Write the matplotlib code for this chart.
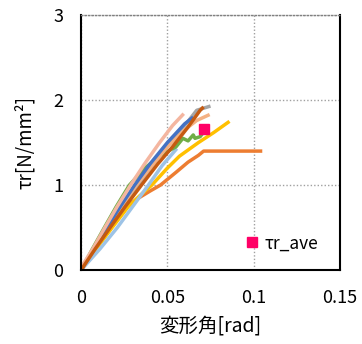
import matplotlib
matplotlib.use("Agg")
import matplotlib.pyplot as plt

plt.rcParams['font.family'] = ['Noto Sans CJK JP', 'DejaVu Sans']

# series data (deformation angle [rad], tau_r [N/mm2])
green_x = [0.0, 0.0066, 0.0135, 0.0205, 0.028, 0.037, 0.046, 0.055, 0.059, 0.062, 0.065, 0.066, 0.069, 0.0705]
green_y = [0.0, 0.25, 0.50, 0.75, 1.00, 1.20, 1.35, 1.45, 1.55, 1.52, 1.59, 1.55, 1.57, 1.61]

lblue_x = [0.0, 0.011, 0.021, 0.030, 0.039, 0.047, 0.0555]
lblue_y = [0.0, 0.25, 0.50, 0.75, 1.00, 1.23, 1.43]

orange_x = [0.0, 0.0085, 0.0175, 0.0268, 0.0335, 0.040, 0.046, 0.055, 0.062, 0.068, 0.071, 0.105]
orange_y = [0.0, 0.25, 0.50, 0.75, 0.85, 0.93, 1.00, 1.15, 1.27, 1.35, 1.40, 1.40]

yellow_x = [0.0, 0.0088, 0.018, 0.0275, 0.034, 0.041, 0.050, 0.057, 0.068, 0.077, 0.086]
yellow_y = [0.0, 0.25, 0.50, 0.75, 0.875, 1.00, 1.20, 1.34, 1.50, 1.62, 1.75]

gray_x = [0.0, 0.0078, 0.016, 0.0243, 0.033, 0.051, 0.062, 0.067, 0.075]
gray_y = [0.0, 0.25, 0.50, 0.75, 1.00, 1.50, 1.75, 1.88, 1.93]

salmon2_x = [0.0, 0.0076, 0.0155, 0.0236, 0.032, 0.050, 0.060, 0.067, 0.0745]
salmon2_y = [0.0, 0.25, 0.50, 0.75, 1.00, 1.45, 1.65, 1.76, 1.83]

blue_x = [0.0, 0.0073, 0.015, 0.0228, 0.031, 0.040, 0.050, 0.055, 0.060, 0.065]
blue_y = [0.0, 0.25, 0.50, 0.75, 1.00, 1.25, 1.50, 1.61, 1.72, 1.80]

salmon_x = [0.0, 0.0068, 0.0138, 0.021, 0.0287, 0.0368, 0.0455, 0.053, 0.0595]
salmon_y = [0.03, 0.25, 0.50, 0.75, 1.00, 1.25, 1.50, 1.70, 1.84]

brown_x = [0.0, 0.0082, 0.0168, 0.0257, 0.035, 0.0445, 0.053, 0.0615, 0.069, 0.071]
brown_y = [0.0, 0.25, 0.50, 0.75, 1.00, 1.25, 1.45, 1.67, 1.88, 1.92]

ave_x = [0.071]
ave_y = [1.66]

series = [
    (orange_x, orange_y, '#ED7D31'),
    (yellow_x, yellow_y, '#FFC000'),
    (lblue_x, lblue_y, '#9DC3E6'),
    (green_x, green_y, '#70AD47'),
    (gray_x, gray_y, '#A5A5A5'),
    (salmon2_x, salmon2_y, '#F4B183'),
    (blue_x, blue_y, '#4472C4'),
    (salmon_x, salmon_y, '#F4B6A0'),
    (brown_x, brown_y, '#C55A11'),
]

fig = plt.figure(figsize=(3.62, 3.44), dpi=100)
ax = fig.add_axes([0.224, 0.215, 0.715, 0.741])

for xs, ys, c in series:
    ax.plot(xs, ys, color=c, lw=2.5, solid_capstyle='butt', solid_joinstyle='round')

ax.plot(ave_x, ave_y, linestyle='none', marker='s', markersize=6.5,
        color='#FF0066', label='τr_ave')

ax.set_xlim(0, 0.15)
ax.set_ylim(0, 3)
ax.set_xticks([0, 0.05, 0.1, 0.15])
ax.set_xticklabels(['0', '0.05', '0.1', '0.15'])
ax.set_yticks([0, 1, 2, 3])
ax.set_yticklabels(['0', '1', '2', '3'])
ax.tick_params(axis='x', length=0, pad=14, labelsize=13)
ax.tick_params(axis='y', length=0, pad=13, labelsize=13)

ax.grid(True, color='#A0A0A0', linestyle=(0, (1, 1.5)), linewidth=1.0)
ax.set_axisbelow(True)

for s in ['left', 'bottom', 'right']:
    ax.spines[s].set_color('black')
    ax.spines[s].set_linewidth(1.5)
ax.spines['top'].set_color('#808080')
ax.spines['top'].set_linestyle((0, (1, 1.5)))
ax.spines['top'].set_linewidth(1.0)

ax.set_xlabel('変形角[rad]', fontsize=14, labelpad=6)
ax.set_ylabel('τr[N/mm²]', fontsize=13.5, labelpad=12)

ax.legend(loc='center left', bbox_to_anchor=(0.58, 0.105), frameon=False,
          handlelength=0.6, handletextpad=0.4, fontsize=12.5, markerscale=1.0)

fig.savefig('out.png', dpi=100)
